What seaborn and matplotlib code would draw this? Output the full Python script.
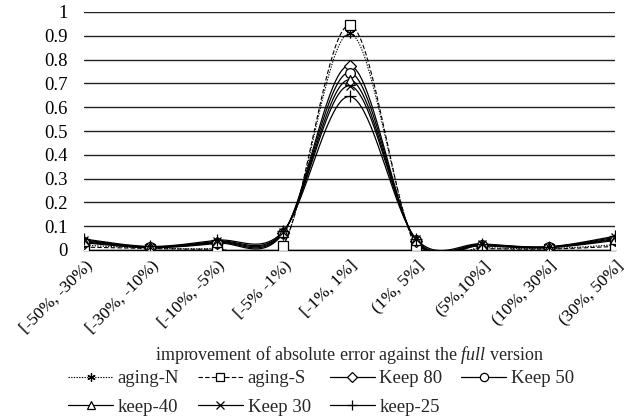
import numpy as np
import pandas as pd
import matplotlib
matplotlib.use("Agg")
import matplotlib.pyplot as plt
from matplotlib.lines import Line2D
import seaborn as sns

categories = ["[-50%, -30%)", "[-30%, -10%)", "[-10%, -5%)", "[-5% -1%)",
              "[-1%, 1%]", "(1%, 5%]", "(5%,10%]", "(10%, 30%]", "(30%, 50%]"]

aging_n = [0.020, 0.008, 0.006, 0.022, 0.910, 0.022, 0.010, 0.006, 0.022]
aging_s = [0.012, 0.006, 0.004, 0.018, 0.945, 0.015, 0.006, 0.004, 0.015]
keep_80 = [0.030, 0.010, 0.028, 0.070, 0.775, 0.038, 0.018, 0.010, 0.040]
keep_50 = [0.034, 0.011, 0.031, 0.072, 0.745, 0.040, 0.020, 0.011, 0.044]
keep_40 = [0.038, 0.012, 0.034, 0.074, 0.715, 0.042, 0.022, 0.012, 0.048]
keep_30 = [0.042, 0.013, 0.037, 0.076, 0.690, 0.045, 0.024, 0.013, 0.053]
keep_25 = [0.046, 0.015, 0.041, 0.078, 0.645, 0.048, 0.026, 0.014, 0.058]

series_names = ["aging-N", "aging-S", "Keep 80", "Keep 50", "keep-40", "Keep 30", "keep-25"]
series_values = [aging_n, aging_s, keep_80, keep_50, keep_40, keep_30, keep_25]

styles = {
    "aging-N": dict(ls=(0, (1.2, 1.2)), marker=(6, 2, 0), ms=7, lw=0.8),
    "aging-S": dict(ls=(0, (4, 2)), marker="s", ms=7, lw=0.8),
    "Keep 80": dict(ls="-", marker="D", ms=6, lw=0.9),
    "Keep 50": dict(ls="-", marker="o", ms=7, lw=0.9),
    "keep-40": dict(ls="-", marker="^", ms=7, lw=0.9),
    "Keep 30": dict(ls="-", marker="x", ms=6, lw=0.9),
    "keep-25": dict(ls="-", marker="+", ms=8, lw=0.9),
}
OPEN = ("s", "D", "o", "^")


def smooth(y, n=40):
    # Excel-like smoothed line (Catmull-Rom / cardinal Bezier)
    y = np.asarray(y, float)
    x = np.arange(len(y), dtype=float)
    xs, ys = [], []
    for i in range(len(y) - 1):
        p0 = np.array([x[max(i - 1, 0)], y[max(i - 1, 0)]])
        p1 = np.array([x[i], y[i]])
        p2 = np.array([x[i + 1], y[i + 1]])
        p3 = np.array([x[min(i + 2, len(y) - 1)], y[min(i + 2, len(y) - 1)]])
        c1 = p1 + (p2 - p0) / 6.0
        c2 = p2 - (p3 - p1) / 6.0
        t = np.linspace(0, 1, n, endpoint=(i == len(y) - 2))[:, None]
        pts = ((1 - t) ** 3) * p1 + 3 * ((1 - t) ** 2) * t * c1 + 3 * (1 - t) * t ** 2 * c2 + t ** 3 * p2
        xs.append(pts[:, 0]); ys.append(pts[:, 1])
    return np.concatenate(xs), np.concatenate(ys)


sns.set_style("white")
plt.rcParams["font.family"] = ["Liberation Serif", "DejaVu Serif"]
plt.rcParams["mathtext.fontset"] = "custom"
plt.rcParams["mathtext.rm"] = "Liberation Serif"
plt.rcParams["mathtext.it"] = "Liberation Serif:italic"

fig = plt.figure(figsize=(6.28, 4.18), dpi=100)
ax = fig.add_axes([84 / 628, 1 - 250 / 418, (615 - 84) / 628, (250 - 12) / 418])

for name, vals in zip(series_names, series_values):
    st = styles[name]
    sx, sy = smooth(vals)
    df = pd.DataFrame({"x": sx, "y": sy})
    sns.lineplot(data=df, x="x", y="y", ax=ax, color="black", lw=st["lw"],
                 linestyle=st["ls"], estimator=None, sort=False, legend=False)
    dp = pd.DataFrame({"x": np.arange(len(vals)), "y": vals})
    ax.plot(dp["x"], dp["y"], ls="none", marker=st["marker"], ms=st["ms"],
            mfc="white" if st["marker"] in OPEN else "none",
            mec="black", mew=0.9, color="black", zorder=3)

ax.set_xlim(0, len(categories) - 1)
ax.set_ylim(0, 1)
ax.set_yticks(np.arange(0, 1.01, 0.1))
ax.set_yticklabels(["0", "0.1", "0.2", "0.3", "0.4", "0.5", "0.6", "0.7", "0.8", "0.9", "1"])
ax.grid(axis="y", color="#222222", lw=1.0)
ax.grid(axis="x", visible=False)
ax.set_axisbelow(True)
for s in ["top", "right", "left"]:
    ax.spines[s].set_visible(False)
ax.spines["bottom"].set_color("black")
ax.spines["bottom"].set_linewidth(1.0)

ax.set_xticks(range(len(categories)))
ax.set_xticklabels(categories, rotation=45, ha="right", rotation_mode="anchor")
ax.tick_params(axis="x", direction="inout", length=9, width=1.0, color="black",
               labelsize=12.5, pad=1)
ax.tick_params(axis="y", length=0, labelsize=13.5, pad=12)
for lab in ax.get_yticklabels() + ax.get_xticklabels():
    lab.set_color("black")

ax.set_xlabel("improvement of absolute error against the $\\mathit{full}$ version",
              fontsize=13, labelpad=8)
ax.xaxis.set_label_coords(0.5, -0.395)
ax.set_ylabel("")

# legend laid out row-wise like the reference (matplotlib fills column-wise)
order = [0, 4, 1, 5, 2, 6, 3]
handles, labels = [], []
for i in order:
    name = series_names[i]
    st = styles[name]
    handles.append(Line2D([], [], color="black", lw=st["lw"], linestyle=st["ls"],
                          marker=st["marker"], ms=st["ms"] * 0.85,
                          mfc="white" if st["marker"] in OPEN else "none",
                          mec="black", mew=0.9))
    labels.append(name)
leg = fig.legend(handles, labels, loc="upper left", bbox_to_anchor=(68 / 628, 1 - 370 / 418),
                 ncol=4, frameon=False, fontsize=13.5, handlelength=2.4, handletextpad=0.25,
                 columnspacing=1.0, labelspacing=0.62, borderpad=0, borderaxespad=0)

fig.savefig("out.png", dpi=100)
